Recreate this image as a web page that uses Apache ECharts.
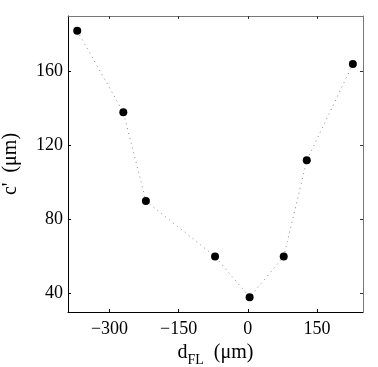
<!DOCTYPE html>
<html>
<head>
<meta charset="utf-8">
<script src="https://cdn.jsdelivr.net/npm/echarts@6/dist/echarts.min.js"></script>
<style>
  html, body { margin: 0; padding: 0; background: #fff; }
  #chart { width: 378px; height: 367px; }
</style>
</head>
<body>
<div id="chart"></div>
<script>
// measured points
const dFL = [-370, -270, -221, -71, 4, 78, 128, 228];
const cPrime = [182, 138, 90, 60, 38, 60, 112, 164];
const xTicks = [-300, -150, 0, 150];
const yTicks = [40, 80, 120, 160];

const font = '"Liberation Serif", "DejaVu Serif", serif';
let chart = echarts.init(document.getElementById('chart'));

function minus(v) {
    return String(v).replace('-', '\u2212');
}

let points = dFL.map(function (x, i) { return [x, cPrime[i]]; });

let option = {
    animation: false,
    grid: { left: 68, top: 16, right: 15, bottom: 55, outerBoundsMode: 'none', containLabel: false },
    xAxis: [{
        type: 'value',
        min: -390,
        max: 250,
        position: 'bottom',
        axisLine: { onZero: false, lineStyle: { color: '#000', width: 1 } },
        axisTick: { inside: true, length: 3, customValues: xTicks, lineStyle: { color: '#000' } },
        axisLabel: {
            customValues: xTicks,
            formatter: minus,
            color: '#000', fontFamily: font, fontSize: 18, margin: 8
        },
        splitLine: { show: false },
        name: '{a|d}{b|FL}{a|  (\u03bcm)}',
        nameLocation: 'middle',
        nameGap: 25,
        nameTextStyle: {
            rich: {
                a: { fontFamily: font, fontSize: 20, color: '#000' },
                b: { fontFamily: font, fontSize: 14, color: '#000', padding: [14, 0, 0, 0] }
            }
        }
    }, {
        type: 'value',
        min: -390,
        max: 250,
        position: 'top',
        axisLine: { onZero: false, lineStyle: { color: '#777', width: 1 } },
        axisTick: { inside: true, length: 3, customValues: xTicks, lineStyle: { color: '#333' } },
        axisLabel: { show: false },
        splitLine: { show: false }
    }],
    yAxis: [{
        type: 'value',
        min: 30,
        max: 190,
        position: 'left',
        axisLine: { onZero: false, lineStyle: { color: '#000', width: 1 } },
        axisTick: { inside: true, length: 3, customValues: yTicks, lineStyle: { color: '#000' } },
        axisLabel: {
            customValues: yTicks,
            color: '#000', fontFamily: font, fontSize: 18, margin: 5
        },
        splitLine: { show: false },
        name: "c'  (\u03bcm)",
        nameLocation: 'middle',
        nameGap: 47,
        nameRotate: 90,
        nameTextStyle: { fontFamily: font, fontSize: 20, color: '#000' }
    }, {
        type: 'value',
        min: 30,
        max: 190,
        position: 'right',
        axisLine: { onZero: false, lineStyle: { color: '#777', width: 1 } },
        axisTick: { inside: true, length: 3, customValues: yTicks, lineStyle: { color: '#333' } },
        axisLabel: { show: false },
        splitLine: { show: false }
    }],
    series: [{
        type: 'line',
        data: points,
        symbol: 'circle',
        symbolSize: 8,
        itemStyle: { color: '#000' },
        lineStyle: { color: '#888', width: 1, type: [1, 4] }
    }]
};
chart.setOption(option);
</script>
</body>
</html>
